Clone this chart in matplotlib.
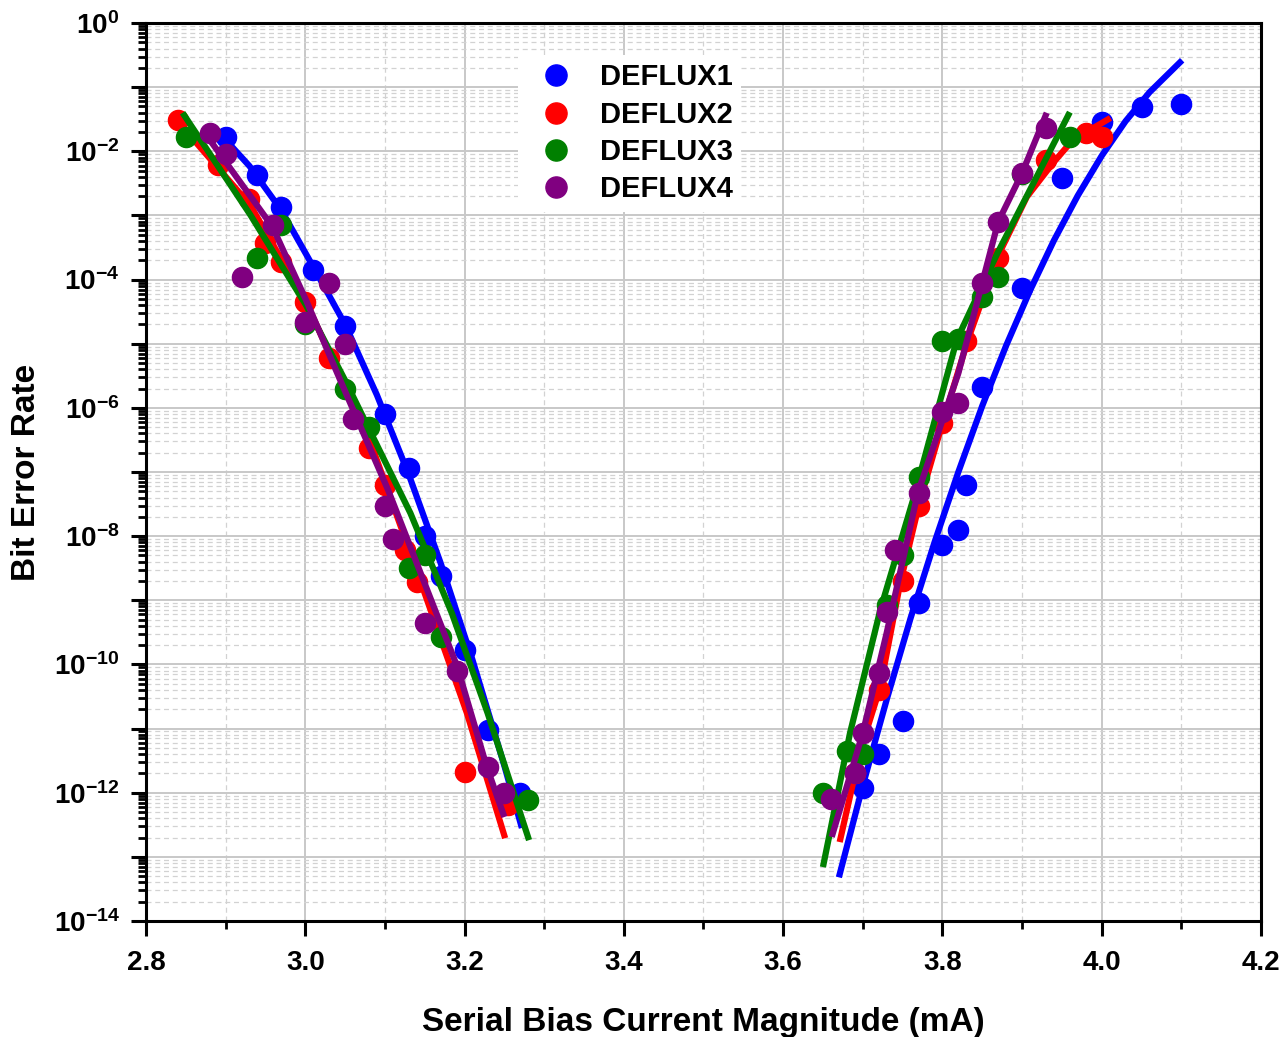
import numpy as np
import matplotlib
matplotlib.use('Agg')
import matplotlib.pyplot as plt
from matplotlib.ticker import LogLocator, FuncFormatter, MultipleLocator, NullFormatter

plt.rcParams['font.family'] = ['Liberation Sans', 'DejaVu Sans']
plt.rcParams['font.weight'] = 'bold'
plt.rcParams['mathtext.fontset'] = 'custom'
plt.rcParams['mathtext.rm'] = 'Liberation Sans:bold'
plt.rcParams['mathtext.bf'] = 'Liberation Sans:bold'
plt.rcParams['mathtext.default'] = 'rm'

## measured points (current in mA, bit error rate)
blue_x = [2.90, 2.94, 2.97, 3.01, 3.05, 3.10, 3.13, 3.15, 3.17, 3.20, 3.23, 3.27,
          3.70, 3.72, 3.75, 3.77, 3.80, 3.82, 3.83, 3.85, 3.90, 3.95, 4.00, 4.05, 4.10]
blue_ber = [1.7e-2, 4.3e-3, 1.35e-3, 1.4e-4, 1.9e-5, 8e-7, 1.15e-7, 1.0e-8, 2.4e-9, 1.7e-10, 9.5e-12, 1.0e-12,
            1.2e-12, 4e-12, 1.3e-11, 9e-10, 7.3e-9, 1.25e-8, 6.3e-8, 2.1e-6, 7.4e-5, 3.8e-3, 2.9e-2, 4.9e-2, 5.5e-2]

red_x = [2.84, 2.89, 2.93, 2.95, 2.97, 3.00, 3.03, 3.08, 3.10, 3.125, 3.14, 3.20, 3.255,
         3.69, 3.72, 3.75, 3.77, 3.80, 3.83, 3.87, 3.93, 3.98, 4.00]
red_ber = [3.1e-2, 6.1e-3, 1.8e-3, 3.7e-4, 1.9e-4, 4.5e-5, 6e-6, 2.4e-7, 6.3e-8, 6e-9, 1.9e-9, 2.1e-12, 6.5e-13,
           2e-12, 4e-11, 2e-9, 3e-8, 5.8e-7, 1.1e-5, 2.2e-4, 7.3e-3, 1.9e-2, 1.7e-2]

green_x = [2.85, 2.94, 2.97, 3.00, 3.05, 3.08, 3.13, 3.15, 3.17, 3.28,
           3.65, 3.68, 3.70, 3.73, 3.75, 3.77, 3.80, 3.82, 3.85, 3.87, 3.90, 3.96]
green_ber = [1.7e-2, 2.2e-4, 7e-4, 2e-5, 2e-6, 5e-7, 3.2e-9, 5e-9, 2.7e-10, 7.7e-13,
             1e-12, 4.5e-12, 4e-12, 8.5e-10, 5e-9, 8.3e-8, 1.1e-5, 1.2e-5, 5.4e-5, 1.1e-4, 4.5e-3, 1.7e-2]

purple_x = [2.88, 2.90, 2.92, 2.96, 3.00, 3.03, 3.05, 3.06, 3.10, 3.11, 3.15, 3.19, 3.23, 3.25,
            3.66, 3.69, 3.70, 3.72, 3.73, 3.74, 3.77, 3.80, 3.82, 3.85, 3.87, 3.90, 3.93]
purple_ber = [1.9e-2, 9e-3, 1.1e-4, 7e-4, 2.2e-5, 9e-5, 1e-5, 6.7e-7, 3e-8, 9e-9, 4.4e-10, 8e-11, 2.5e-12, 1e-12,
              8e-13, 2e-12, 8.5e-12, 7.4e-11, 6.6e-10, 6e-9, 4.7e-8, 8.6e-7, 1.2e-6, 8.9e-5, 7.9e-4, 4.6e-3, 2.3e-2]

## fitted curves (current in mA, log10 BER)
blue_fit_lx = [2.889, 2.93, 2.97, 3.01, 3.05, 3.09, 3.13, 3.17, 3.21, 3.25, 3.272]
blue_fit_llog = [-1.67, -2.23, -2.92, -3.80, -4.70, -5.80, -7.04, -8.42, -9.93, -11.58, -12.55]
blue_fit_rx = [3.670, 3.70, 3.73, 3.76, 3.79, 3.82, 3.85, 3.88, 3.91, 3.94, 3.97, 4.00, 4.03, 4.06, 4.101]
blue_fit_rlog = [-13.32, -11.89, -10.55, -9.28, -8.10, -7.00, -5.97, -5.03, -4.17, -3.39, -2.69, -2.07, -1.53,
                 -1.08, -0.58]

red_fit_lx = [2.855, 2.931, 3.001, 3.084, 3.144, 3.203, 3.251]
red_fit_llog = [-1.75, -2.84, -4.35, -6.61, -8.68, -10.76, -12.71]
red_fit_rx = [3.671, 3.697, 3.722, 3.747, 3.772, 3.800, 3.832, 3.869, 3.906, 3.939, 3.964, 3.989, 4.011]
red_fit_rlog = [-12.77, -11.34, -10.35, -8.73, -7.44, -6.24, -4.94, -3.65, -2.71, -2.18, -1.82, -1.64, -1.48]

green_fit_lx = [2.846, 2.931, 3.001, 3.050, 3.132, 3.184, 3.229, 3.281]
green_fit_llog = [-1.40, -2.99, -4.40, -5.57, -7.64, -9.20, -10.76, -12.74]
green_fit_rx = [3.650, 3.684, 3.722, 3.763, 3.818, 3.869, 3.910, 3.960]
green_fit_rlog = [-13.16, -11.07, -9.15, -7.44, -4.94, -3.59, -2.60, -1.39]

purple_fit_lx = [2.880, 2.959, 3.001, 3.044, 3.104, 3.191, 3.228, 3.250]
purple_fit_llog = [-1.82, -3.18, -4.32, -5.57, -7.28, -10.04, -11.60, -12.38]
purple_fit_rx = [3.661, 3.700, 3.730, 3.769, 3.820, 3.850, 3.870, 3.900, 3.931]
purple_fit_rlog = [-12.69, -11.07, -9.51, -7.33, -5.46, -4.05, -3.10, -2.34, -1.40]

series = [
    ('DEFLUX1', '#0000ff', blue_x, blue_ber, [(blue_fit_lx, blue_fit_llog), (blue_fit_rx, blue_fit_rlog)]),
    ('DEFLUX2', '#ff0000', red_x, red_ber, [(red_fit_lx, red_fit_llog), (red_fit_rx, red_fit_rlog)]),
    ('DEFLUX3', '#008000', green_x, green_ber, [(green_fit_lx, green_fit_llog), (green_fit_rx, green_fit_rlog)]),
    ('DEFLUX4', '#800080', purple_x, purple_ber, [(purple_fit_lx, purple_fit_llog), (purple_fit_rx, purple_fit_rlog)]),
]

fig = plt.figure(figsize=(12.87, 10.37), dpi=100)
ax = fig.add_axes([0.1134, 0.1119, 0.8664, 0.8659])

for name, color, xs, bers, fits in series:
    ax.plot(xs, bers, 'o', color=color, ms=14.5, label=name, zorder=3)
    for fx, flog in fits:
        ax.plot(fx, 10.0 ** np.array(flog), '-', color=color, lw=4.5,
                solid_capstyle='butt', solid_joinstyle='round', zorder=3)

ax.set_yscale('log')
ax.set_xlim(2.8, 4.2)
ax.set_ylim(1e-14, 1)

ax.xaxis.set_major_locator(MultipleLocator(0.2))
ax.xaxis.set_minor_locator(MultipleLocator(0.1))
ax.xaxis.set_major_formatter(FuncFormatter(lambda v, p: '%.1f' % v))

ax.yaxis.set_major_locator(LogLocator(base=10, numticks=30))
ax.yaxis.set_minor_locator(LogLocator(base=10, subs=np.arange(2, 10), numticks=30))
ax.yaxis.set_minor_formatter(NullFormatter())


def ylab(v, pos):
    e = int(round(np.log10(v)))
    if e % 2 != 0:
        return ''
    return r'$10^{%d}$' % e


ax.yaxis.set_major_formatter(FuncFormatter(ylab))

ax.tick_params(which='major', direction='out', length=11, width=2.2, labelsize=20, pad=8)
ax.tick_params(which='minor', direction='out', length=5.5, width=2.0)
ax.tick_params(axis='x', which='major', pad=10)
ax.tick_params(top=False, right=False, which='both')

for s in ax.spines.values():
    s.set_linewidth(2.2)

ax.grid(True, which='major', color='#c8c8c8', lw=1.4, ls='-', zorder=0)
ax.grid(True, which='minor', color='#d2d2d2', lw=0.9, ls=(0, (4, 3)), zorder=0)
ax.set_axisbelow(True)

ax.set_xlabel('Serial Bias Current Magnitude (mA)', fontsize=24, fontweight='bold', labelpad=22)
ax.set_ylabel('Bit Error Rate', fontsize=24, fontweight='bold', labelpad=8)

leg = ax.legend(loc='upper left', bbox_to_anchor=(0.3205, 0.981), fontsize=21, frameon=True,
                fancybox=False, edgecolor='none', facecolor='white', framealpha=1,
                handletextpad=0.5, labelspacing=0.32, borderpad=0.3, markerscale=1.05)
leg.set_zorder(5)

fig.savefig('out.png', dpi=100)
